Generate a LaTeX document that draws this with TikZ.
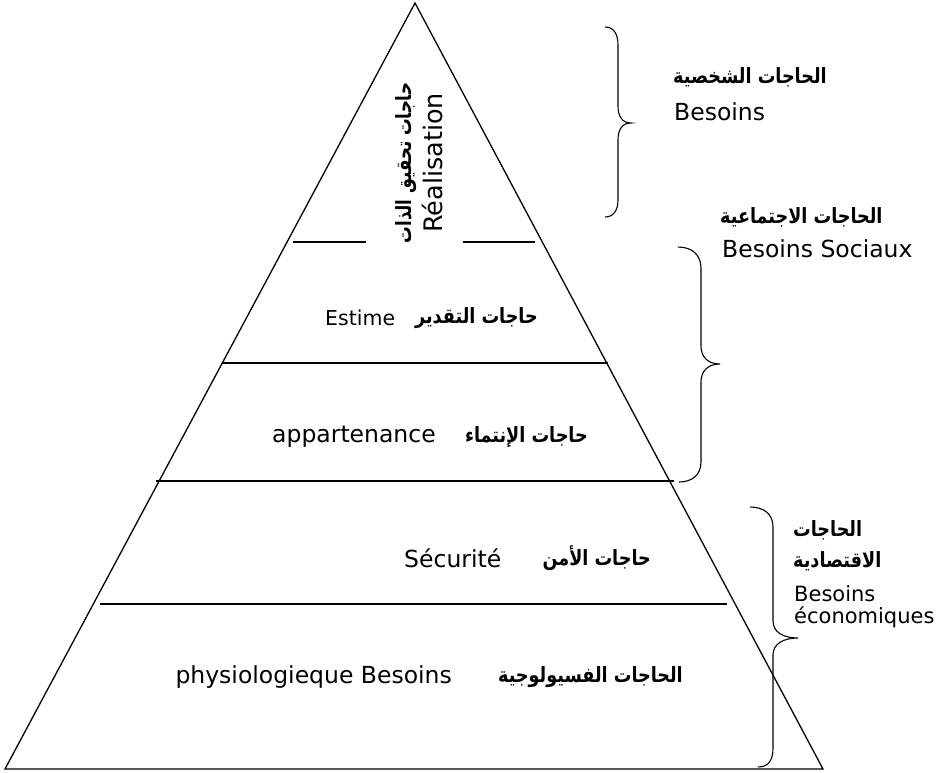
\documentclass[tikz,border=0pt]{standalone}
\usepackage{fontspec}
\usepackage{graphicx}
\setmainfont{DejaVu Sans}
\newfontfamily\arabicfont[Script=Arabic]{DejaVu Sans}
\TeXXeTstate=1
\newcommand{\artxt}[1]{\scalebox{0.88}[1.05]{\beginR #1\endR}}
\begin{document}
\begin{tikzpicture}[x=1pt,y=-1pt,
  lat/.style={inner sep=0pt, font=\fontsize{23.5}{28}\selectfont},
  lats/.style={inner sep=0pt, font=\fontsize{21}{25}\selectfont},
  ar/.style={inner sep=0pt, font=\arabicfont\bfseries\fontsize{20}{26}\selectfont},
  edge/.style={line width=1.3pt},
  brc/.style={line width=1.1pt}]
\useasboundingbox (0,0) rectangle (943,773);
% pyramid
\coordinate (apex) at (415,3);
\coordinate (bl) at (5,769);
\coordinate (br) at (823,769);
\draw[edge] (bl) -- (apex) -- (br) -- cycle;
% level lines
\coordinate (l1a) at (293,242); \coordinate (l1b) at (366,242);
\coordinate (l1c) at (463,242); \coordinate (l1d) at (535,242);
\draw[edge] (l1a) -- (l1b);
\draw[edge] (l1c) -- (l1d);
\coordinate (l2a) at (222,363); \coordinate (l2b) at (608,363);
\draw[edge] (l2a) -- (l2b);
\coordinate (l3a) at (156,481); \coordinate (l3b) at (674,481);
\draw[edge] (l3a) -- (l3b);
\coordinate (l4a) at (100,604); \coordinate (l4b) at (727,604);
\draw[edge] (l4a) -- (l4b);
% top level (vertical)
\node[ar, rotate=90] (t1) at (406,163) {\scalebox{0.83}[1.05]{\beginR حاجات تحقيق الذات\endR}};
\node[inner sep=0pt, font=\fontsize{25.5}{30}\selectfont, rotate=90] (t2) at (432,163) {Réalisation};
% estime
\node[inner sep=0pt, font=\fontsize{20.5}{25}\selectfont, anchor=west] (e1) at (325,318) {Estime};
\node[ar, anchor=east] (e2) at (538,318) {\artxt{حاجات التقدير}};
% appartenance
\node[lat, anchor=west] (a1) at (272,437) {appartenance};
\node[ar, anchor=east] (a2) at (588,437) {\artxt{حاجات الإنتماء}};
% securite
\node[lat, anchor=west] (s1) at (404,558) {Sécurité};
\node[ar, anchor=east] (s2) at (651,558) {\artxt{حاجات الأمن}};
% physiologique
\node[lat, anchor=east] (p1) at (452,677) {physiologieque Besoins};
\node[ar, anchor=east] (p2) at (683,677) {\artxt{الحاجات الفسيولوجية}};
% brace 1
\draw[brc] (605,27) .. controls (613,27) and (618,33) .. (618,45) -- (618,106)
  .. controls (618,116) and (622,123) .. (631,123)
  .. controls (622,123) and (618,130) .. (618,140) -- (618,200)
  .. controls (618,211) and (613,217) .. (605,217);
% brace 2
\draw[brc] (678,247) .. controls (692,247) and (701,255) .. (701,268) -- (701,346)
  .. controls (701,357) and (708,364) .. (720,364)
  .. controls (708,364) and (701,371) .. (701,382) -- (701,462)
  .. controls (701,475) and (692,482) .. (679,482);
% brace 3
\draw[brc] (750,507) .. controls (764,507) and (773,514) .. (773,527) -- (773,621)
  .. controls (773,632) and (783,638) .. (798,638)
  .. controls (783,638) and (773,644) .. (773,655) -- (773,748)
  .. controls (773,761) and (768,767) .. (758,767);
% right labels
\node[ar, anchor=west] (r1a) at (673,77) {\artxt{الحاجات الشخصية}};
\node[lat, anchor=west] (r1b) at (674,112) {Besoins};
\node[ar, anchor=west] (r2a) at (720,217) {\artxt{الحاجات الاجتماعية}};
\node[lat, anchor=west] (r2b) at (722,249) {Besoins Sociaux};
\node[ar, anchor=west] (r3a) at (793,530) {\artxt{الحاجات}};
\node[ar, anchor=west] (r3b) at (793,561) {\artxt{الاقتصادية}};
\node[lats, anchor=west] (r3c) at (794,594) {Besoins};
\node[lats, anchor=west] (r3d) at (794,617) {économiques};
\end{tikzpicture}
\end{document}
